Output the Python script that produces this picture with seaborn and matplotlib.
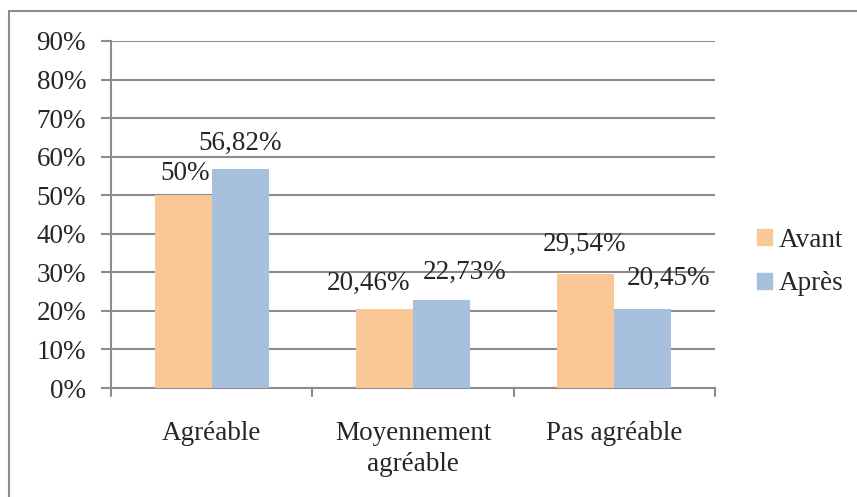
import pandas as pd
import matplotlib.pyplot as plt
import matplotlib.patches as mpatches
import seaborn as sns

# Data
categories = ["Agréable", "Moyennement\nagréable", "Pas agréable"]
avant = [50.0, 20.46, 29.54]
apres = [56.82, 22.73, 20.45]
avant_labels = ["50%", "20,46%", "29,54%"]
apres_labels = ["56,82%", "22,73%", "20,45%"]
series = ["Avant", "Après"]
y_ticks = [0, 10, 20, 30, 40, 50, 60, 70, 80, 90]

colors = {"Avant": "#FAC896", "Après": "#A7C0DE"}
grid_color = "#8C8C8C"
FS = 19.5

df = pd.DataFrame({
    "Catégorie": categories * 2,
    "Série": [series[0]] * 3 + [series[1]] * 3,
    "Valeur": avant + apres,
})

sns.set_theme(style="white")
plt.rcParams["font.family"] = ["Liberation Serif", "DejaVu Serif"]

fig = plt.figure(figsize=(8.57, 4.97), dpi=100)
ax = fig.add_axes([111 / 857, 1 - 388 / 497, (715 - 111) / 857, (388 - 41) / 497])

sns.barplot(data=df, x="Catégorie", y="Valeur", hue="Série", palette=colors,
            width=0.567, saturation=1, linewidth=0, ax=ax, legend=False, zorder=3)

ax.set_ylim(0, 90)
ax.set_xlim(-0.5, 2.5)
ax.set_yticks(y_ticks)
ax.set_yticklabels([f"{t}%" for t in y_ticks], fontsize=FS)
ax.set_xticks([0, 1, 2])
ax.set_xticklabels(categories, fontsize=FS, linespacing=1.3)
ax.tick_params(axis="x", length=0, pad=24)
ax.tick_params(axis="y", length=7, color=grid_color, width=1.5, pad=11, left=True)
ax.set_xlabel("")
ax.set_ylabel("")

# Horizontal gridlines
ax.yaxis.grid(True, color=grid_color, linewidth=1.5, zorder=0)
ax.set_axisbelow(True)
for side in ["top", "right"]:
    ax.spines[side].set_visible(False)
for side in ["left", "bottom"]:
    ax.spines[side].set_color(grid_color)
    ax.spines[side].set_linewidth(1.5)

# Category boundary tick marks under the x axis
for xb in [-0.5, 0.5, 1.5, 2.5]:
    ax.plot([xb, xb], [0, -2], color=grid_color, linewidth=1.5, clip_on=False, zorder=4)

# Value labels (manual offsets in pixels, as in the original)
offsets_avant = [(2, 22), (-16, 26), (-1, 30)]
offsets_apres = [(0, 26), (23, 28), (26, 31)]
bars_avant = ax.containers[0]
bars_apres = ax.containers[1]
for bars, labels, offs in [(bars_avant, avant_labels, offsets_avant),
                           (bars_apres, apres_labels, offsets_apres)]:
    for bar, lab, (dx, dy) in zip(bars, labels, offs):
        cx = bar.get_x() + bar.get_width() / 2
        ax.annotate(lab, (cx, bar.get_height()), xytext=(dx * 0.72, dy * 0.72),
                    textcoords="offset points", ha="center", va="center",
                    fontsize=FS, zorder=5)

# Legend on the right
handles = [mpatches.Patch(color=colors[s]) for s in series]
fig.legend(handles, series, loc="center left", bbox_to_anchor=(757 / 857, 1 - 262 / 497),
           frameon=False, fontsize=FS,
           handlelength=0.55, handleheight=0.55, handletextpad=0.25, labelspacing=0.7,
           borderaxespad=0, borderpad=0)

# Outer chart border (right and bottom edges fall outside the image)
fig.patches.append(mpatches.Rectangle((9 / 857, -0.1), 1, 1.1 - 11 / 497, transform=fig.transFigure,
                                      fill=False, edgecolor="#8C8C8C", linewidth=1.5))

fig.savefig("out.png", dpi=100)
